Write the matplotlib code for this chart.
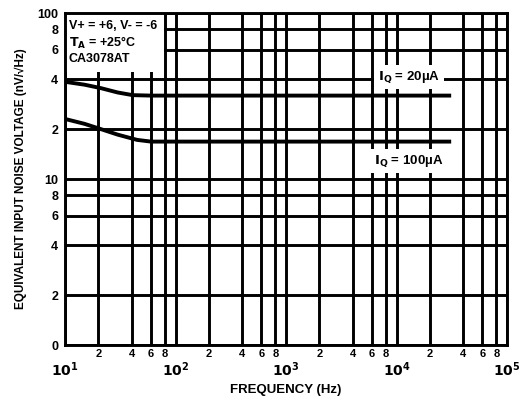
import matplotlib.pyplot as plt
from matplotlib.ticker import NullFormatter

plt.rcParams['font.family'] = ['Liberation Sans', 'DejaVu Sans']
plt.rcParams['font.weight'] = 'bold'
plt.rcParams['axes.labelweight'] = 'bold'
plt.rcParams['mathtext.default'] = 'bf'

# I_Q = 20 uA curve
freq20 = [10, 15, 21, 30, 41, 60, 30000]
noise20 = [38.5, 37.0, 35.3, 33.2, 32.0, 31.8, 31.8]

# I_Q = 100 uA curve
freq100 = [10, 15, 21, 30, 45, 60, 30000]
noise100 = [23.0, 21.5, 20.0, 18.5, 17.2, 16.8, 16.8]

x_major = [1e1, 1e2, 1e3, 1e4, 1e5]
x_major_labels = ['$10^1$', '$10^2$', '$10^3$', '$10^4$', '$10^5$']
x_minor = [m * d for d in [10, 100, 1000, 10000] for m in [2, 4, 6, 8]]
x_minor_labels = ['2', '4', '6', '8'] * 4

y_ticks = [1, 2, 4, 6, 8, 10, 20, 40, 60, 80, 100]
y_labels = ['0', '2', '4', '6', '8', '10', '2', '4', '6', '8', '100']

fig = plt.figure(figsize=(5.2, 4.0), dpi=100)
ax = fig.add_axes([0.125, 0.1375, 0.85, 0.83])
ax.set_xscale('log')
ax.set_yscale('log')
ax.set_xlim(10, 1e5)
ax.set_ylim(1, 100)

ax.set_xticks(x_major)
ax.set_xticklabels(x_major_labels, fontsize=10)
ax.set_xticks(x_minor, minor=True)
ax.set_xticklabels(x_minor_labels, minor=True, fontsize=8)
ax.tick_params(axis='x', which='major', length=0, pad=11)
ax.tick_params(axis='x', which='minor', length=0, pad=3)

ax.set_yticks(y_ticks)
ax.set_yticklabels(y_labels, fontsize=9)
ax.yaxis.set_minor_formatter(NullFormatter())
ax.set_yticks([], minor=True)
ax.tick_params(axis='y', which='both', length=0, pad=5)

ax.grid(True, which='both', color='black', linewidth=2.1)
for s in ax.spines.values():
    s.set_linewidth(2.1)
    s.set_zorder(5)

ax.plot(freq20, noise20, color='black', linewidth=2.8, zorder=3)
ax.plot(freq100, noise100, color='black', linewidth=2.8, zorder=3)

box = dict(facecolor='white', edgecolor='none', pad=3)
ax.text(0.008, 0.978, 'V+ = +6, V- = -6\n$T_A$ = +25°C\nCA3078AT',
        transform=ax.transAxes, ha='left', va='top', fontsize=9,
        linespacing=1.2, zorder=4, clip_on=True,
        bbox=dict(facecolor='white', edgecolor='none', pad=5.5))
ax.text(13000, 41, '$I_Q$ = 20µA', ha='center', va='center',
        fontsize=9.5, zorder=4, bbox=box)
ax.text(13000, 12.8, '$I_Q$ = 100µA', ha='center', va='center',
        fontsize=9.5, zorder=4, bbox=box)

ax.set_xlabel('FREQUENCY (Hz)', fontsize=9.5, labelpad=4)
ax.set_ylabel('EQUIVALENT INPUT NOISE VOLTAGE (nV/√Hz)',
              fontsize=8.5, labelpad=7)

fig.savefig('out.png', dpi=100)
